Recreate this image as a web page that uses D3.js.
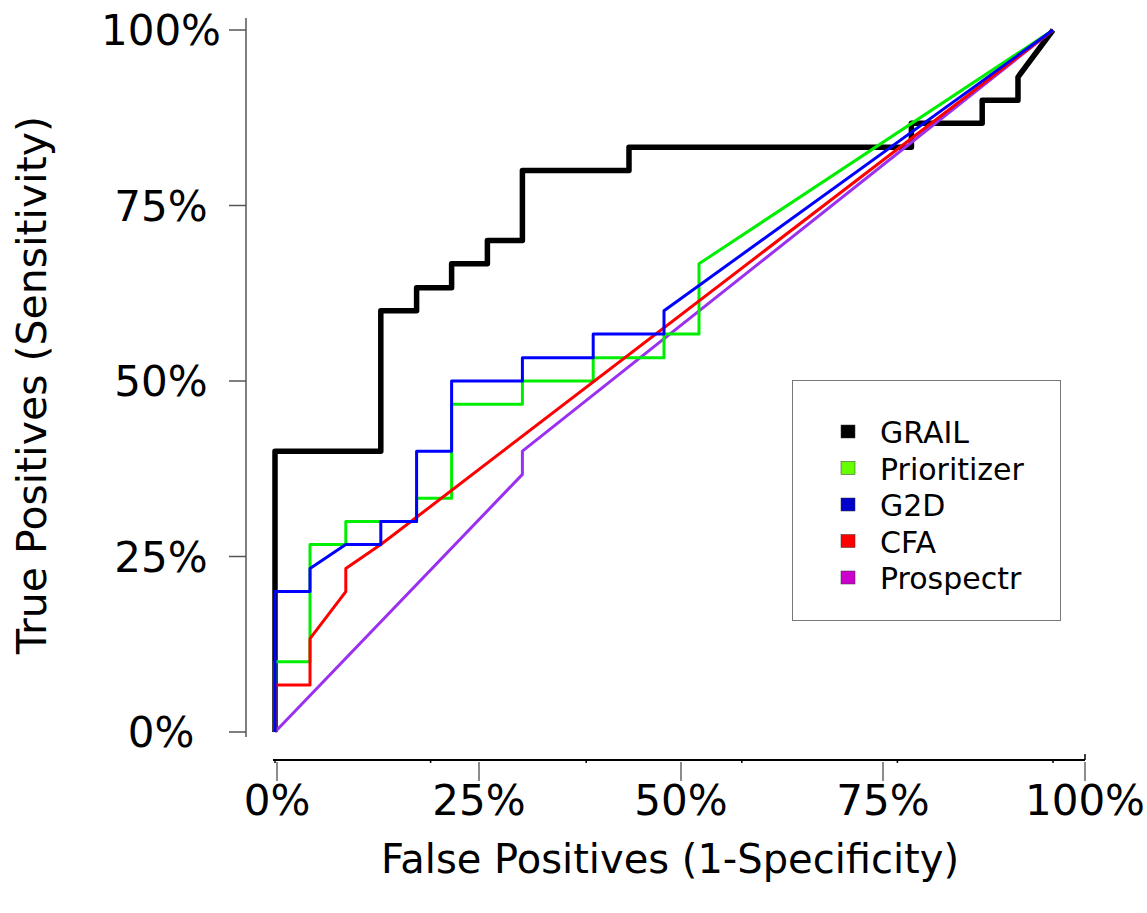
<!DOCTYPE html>
<html>
<head>
<meta charset="utf-8">
<script src="https://cdn.jsdelivr.net/npm/d3@7"></script>
<style>
  body { margin: 0; background: #fff; }
  text { font-family: "DejaVu Sans", sans-serif; }
</style>
</head>
<body>
<svg id="chart" width="1147" height="913"></svg>
<script>
// ROC points, [false positive %, true positive %]
const grail = [[0,0],[0,40],[13.6,40],[13.6,60],[18.2,60],[18.2,63.3],[22.7,63.3],[22.7,66.7],
  [27.3,66.7],[27.3,70],[31.8,70],[31.8,80],[45.5,80],[45.5,83.3],[81.8,83.3],[81.8,86.7],
  [90.9,86.7],[90.9,90],[95.5,90],[95.5,93.3],[100,100]];
const prioritizer = [[0,0],[0,10],[4.5,10],[4.5,26.7],[9.1,26.7],[9.1,30],[18.2,30],[18.2,33.3],
  [22.7,33.3],[22.7,46.7],[31.8,46.7],[31.8,50],[40.9,50],[40.9,53.3],[50,53.3],[50,56.7],
  [54.5,56.7],[54.5,66.7],[100,100]];
const g2d = [[0,0],[0,20],[4.5,20],[4.5,23.3],[9.1,26.7],[13.6,26.7],[13.6,30],[18.2,30],[18.2,40],
  [22.7,40],[22.7,50],[31.8,50],[31.8,53.3],[40.9,53.3],[40.9,56.7],[50,56.7],[50,60],[100,100]];
const cfa = [[0,0],[0,6.7],[4.5,6.7],[4.5,13.3],[9.1,20],[9.1,23.3],[13.6,26.7],[100,100]];
const prospectr = [[0,0],[31.8,36.7],[31.8,40],[100,100]];

const seriesNames = ['GRAIL', 'Prioritizer', 'G2D', 'CFA', 'Prospectr'];
const seriesValues = [grail, prioritizer, g2d, cfa, prospectr];
const tickLabels = ['0%', '25%', '50%', '75%', '100%'];
const tickValues = [0, 25, 50, 75, 100];

const lineColors = ['#000000', '#00ee00', '#0000ff', '#ff0000', '#9a30f0'];
const swatchColors = ['#000000', '#66ff00', '#0000cc', '#ff0000', '#cc00cc'];
const lineWidths = [5.5, 3, 3, 3, 3];
const drawOrder = [0, 4, 1, 3, 2]; // black under, blue on top

const svg = d3.select('#chart');

// curves and the axis labels were not laid out on quite the same scale
const xData = d3.scaleLinear().domain([0, 100]).range([275, 1053]);
const xLab = d3.scaleLinear().domain([0, 100]).range([277, 1085]);
const y = d3.scaleLinear().domain([0, 100]).range([732, 30]);

// y axis (gray)
svg.append('line')
  .attr('x1', 246).attr('x2', 246)
  .attr('y1', 18).attr('y2', 737)
  .attr('stroke', '#555').attr('stroke-width', 1.5);

svg.append('g')
  .selectAll('line')
  .data(tickValues)
  .enter().append('line')
  .attr('x1', 229).attr('x2', 246)
  .attr('y1', d => y(d)).attr('y2', d => y(d))
  .attr('stroke', '#555').attr('stroke-width', 1.5);

svg.append('g')
  .selectAll('text')
  .data(tickValues)
  .enter().append('text')
  .attr('x', 161)
  .attr('y', d => y(d) + 15)
  .attr('text-anchor', 'middle')
  .attr('font-size', 42)
  .text((d, i) => tickLabels[i]);

// x axis: black base line with the small original ticks, gray label ticks below
svg.append('line')
  .attr('x1', xLab(0) - 4).attr('x2', xLab(100))
  .attr('y1', 760).attr('y2', 760)
  .attr('stroke', '#000').attr('stroke-width', 2);

svg.append('line')
  .attr('x1', xLab(100)).attr('x2', xLab(100))
  .attr('y1', 754).attr('y2', 760)
  .attr('stroke', '#000').attr('stroke-width', 1.5);

svg.append('g')
  .selectAll('line')
  .data(xData.ticks(5))
  .enter().append('line')
  .attr('x1', d => xData(d)).attr('x2', d => xData(d))
  .attr('y1', 760).attr('y2', 763)
  .attr('stroke', '#000').attr('stroke-width', 1.5);

svg.append('g')
  .selectAll('line')
  .data(tickValues)
  .enter().append('line')
  .attr('x1', d => xLab(d)).attr('x2', d => xLab(d))
  .attr('y1', 762).attr('y2', 781)
  .attr('stroke', '#666').attr('stroke-width', 1.5);

svg.append('g')
  .selectAll('text')
  .data(tickValues)
  .enter().append('text')
  .attr('x', d => xLab(d))
  .attr('y', 815)
  .attr('text-anchor', 'middle')
  .attr('font-size', 42)
  .text((d, i) => tickLabels[i]);

// axis titles
svg.append('text')
  .attr('x', 670).attr('y', 873)
  .attr('text-anchor', 'middle')
  .attr('font-size', 40)
  .text('False Positives (1-Specificity)');

svg.append('text')
  .attr('transform', 'translate(46,385) rotate(-90)')
  .attr('text-anchor', 'middle')
  .attr('font-size', 41)
  .text('True Positives (Sensitivity)');

// curves
const line = d3.line()
  .x(d => xData(d[0]))
  .y(d => y(d[1]));

svg.append('g')
  .selectAll('path')
  .data(drawOrder)
  .enter().append('path')
  .attr('d', i => line(seriesValues[i]))
  .attr('fill', 'none')
  .attr('stroke', i => lineColors[i])
  .attr('stroke-width', i => lineWidths[i])
  .attr('stroke-linejoin', 'round');

// legend
const legend = svg.append('g');
legend.append('rect')
  .attr('x', 792.5).attr('y', 380.5)
  .attr('width', 268).attr('height', 240)
  .attr('fill', '#fff')
  .attr('stroke', '#777').attr('stroke-width', 1);

const item = legend.selectAll('g')
  .data(seriesNames)
  .enter().append('g')
  .attr('transform', (d, i) => `translate(0,${432 + i * 36.5})`);

item.append('rect')
  .attr('x', 841).attr('y', -7)
  .attr('width', 14).attr('height', 13)
  .attr('fill', (d, i) => swatchColors[i])
  .attr('stroke', '#333').attr('stroke-width', 0.5);

item.append('text')
  .attr('x', 880).attr('y', 11)
  .attr('font-size', 30)
  .text(d => d);
</script>
</body>
</html>
